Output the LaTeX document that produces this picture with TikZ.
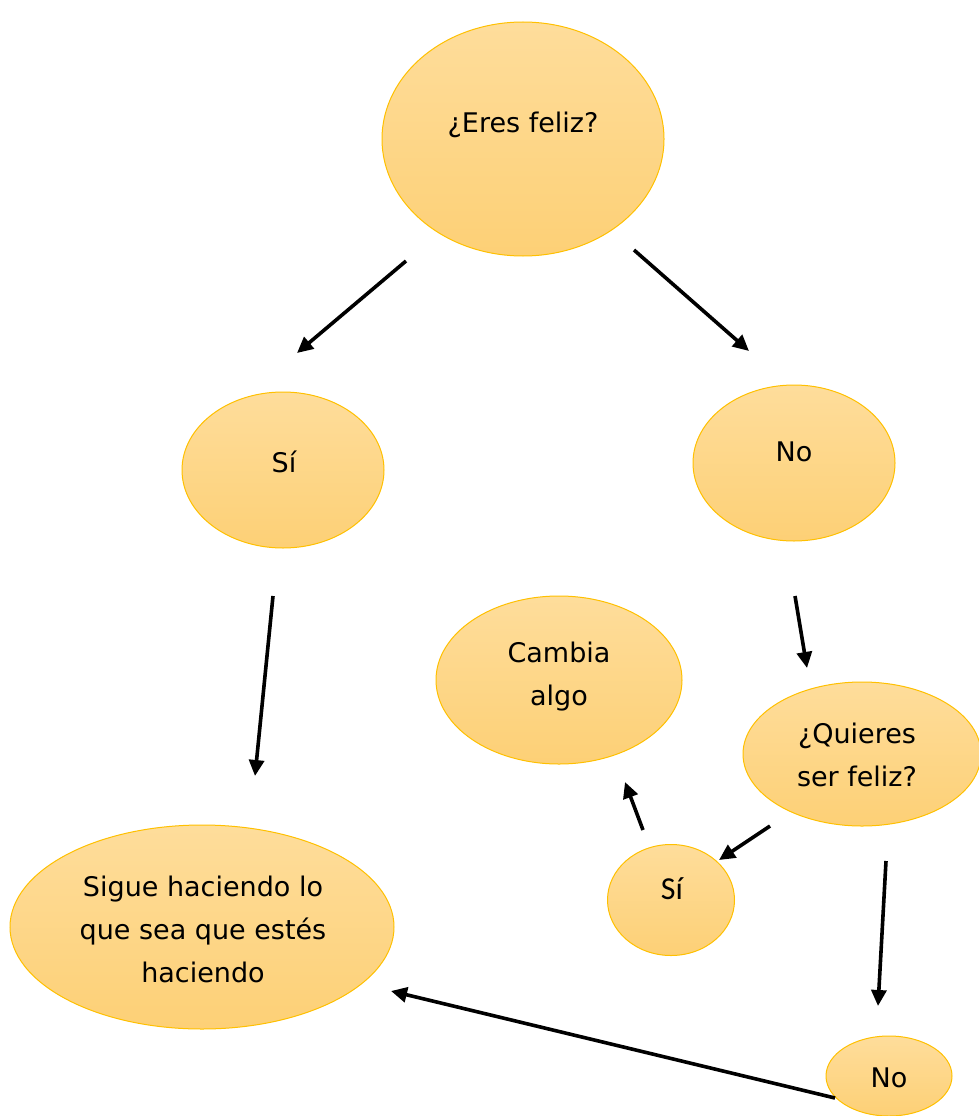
\documentclass[tikz,border=0pt]{standalone}
\usepackage{fontspec}
\setmainfont{DejaVu Sans}
\newfontfamily\calfont{Carlito}
\usetikzlibrary{shapes.geometric,arrows.meta}
\definecolor{bubtop}{RGB}{254,221,155}
\definecolor{bubbot}{RGB}{253,208,118}
\definecolor{bubline}{RGB}{255,192,0}
\begin{document}
\begin{tikzpicture}[x=1pt,y=-1pt,
  bub/.style={ellipse, draw=bubline, line width=1pt, top color=bubtop, bottom color=bubbot, inner sep=0pt},
  txt/.style={align=center, font=\fontsize{27}{43}\selectfont, text=black},
  smalltxt/.style={align=center, font=\calfont\fontsize{32}{34}\selectfont, text=black},
  arr/.style={line width=3.6pt, -{Triangle[length=16pt,width=15pt]}}]
\useasboundingbox (0,0) rectangle (979,1116);
\clip (0,0) rectangle (979,1116);
\fill[white] (0,0) rectangle (979,1116);
% ellipses
\node[bub, minimum width=282pt, minimum height=234pt] (e1) at (523,139) {};
\node[bub, minimum width=202pt, minimum height=156pt] (e2) at (283,470) {};
\node[bub, minimum width=202pt, minimum height=156pt] (e3) at (794,463) {};
\node[bub, minimum width=246pt, minimum height=168pt] (e4) at (559,680) {};
\node[bub, minimum width=238pt, minimum height=144pt] (e5) at (862,754) {};
\node[bub, minimum width=127pt, minimum height=111pt] (e6) at (671,900) {};
\node[bub, minimum width=384pt, minimum height=204pt] (e7) at (202,927) {};
\node[bub, minimum width=126pt, minimum height=80pt] (e8) at (889,1076) {};
% texts
\node[txt] (t1) at (523,125) {¿Eres feliz?};
\node[txt] (t2) at (284,462) {Sí};
\node[txt] (t3) at (794,452) {No};
\node[txt] (t4) at (559,677) {Cambia\\algo};
\node[txt] (t5) at (857,755) {¿Quieres\\ser feliz?};
\node[smalltxt] (t6) at (672,889) {Sí};
\node[txt] (t7) at (203,929) {Sigue haciendo lo\\que sea que estés\\haciendo};
\node[txt] (t8) at (889,1078) {No};
% arrow endpoints
\coordinate (a1s) at (406,261); \coordinate (a1e) at (297,353);
\coordinate (a2s) at (634,250); \coordinate (a2e) at (749,351);
\coordinate (a3s) at (273,596); \coordinate (a3e) at (255,776);
\coordinate (a4s) at (795,596); \coordinate (a4e) at (807,668);
\coordinate (a5s) at (770,826); \coordinate (a5e) at (719,860);
\coordinate (a6s) at (643,830); \coordinate (a6e) at (625,782);
\coordinate (a7s) at (886,861); \coordinate (a7e) at (878,1006);
\coordinate (a8s) at (835,1098); \coordinate (a8e) at (391,991);
\draw[arr] (a1s) -- (a1e);
\draw[arr] (a2s) -- (a2e);
\draw[arr] (a3s) -- (a3e);
\draw[arr] (a4s) -- (a4e);
\draw[arr] (a5s) -- (a5e);
\draw[arr] (a6s) -- (a6e);
\draw[arr] (a7s) -- (a7e);
\draw[arr] (a8s) -- (a8e);
\end{tikzpicture}
\end{document}
